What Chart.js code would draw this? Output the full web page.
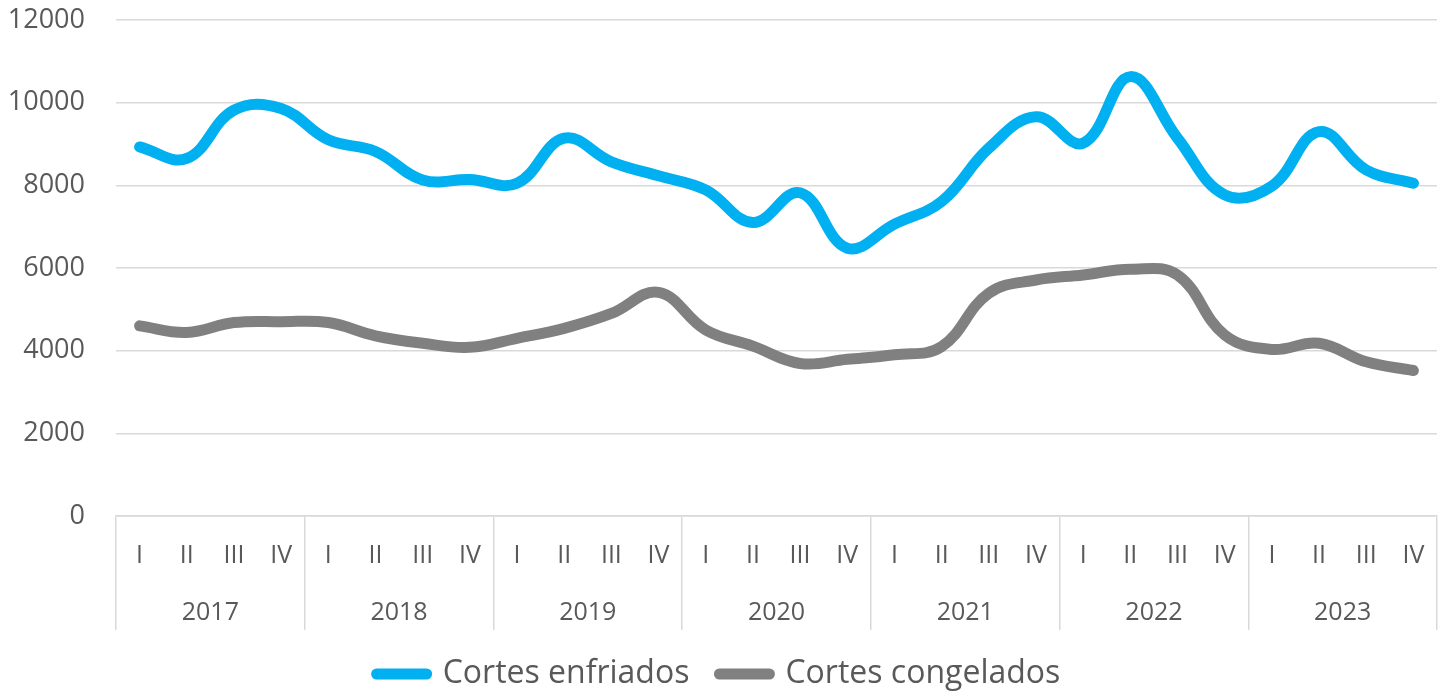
<!DOCTYPE html>
<html>
<head>
<meta charset="utf-8">
<script src="https://cdn.jsdelivr.net/npm/chart.js@4"></script>
<style>
  html, body { margin: 0; padding: 0; background: #fff; }
  #wrap { width: 1448px; height: 693px; }
</style>
</head>
<body>
<div id="wrap"><canvas id="myChart" width="1448" height="693"></canvas></div>
<script>
// quarters and years for the two-level category axis
const quarters = ["I", "II", "III", "IV"];
const years = ["2017", "2018", "2019", "2020", "2021", "2022", "2023"];
const yTicks = [0, 2000, 4000, 6000, 8000, 10000, 12000];

// values, one per quarter
const enfriados = [8930, 8650, 9820, 9860, 9100, 8820, 8130, 8140, 8050, 9140, 8570, 8230, 7890, 7100,
  7820, 6480, 7060, 7610, 8900, 9660, 9020, 10630, 9140, 7770, 7980, 9300, 8370, 8050];
const congelados = [4600, 4440, 4680, 4700, 4680, 4360, 4180, 4080, 4300, 4540, 4900, 5410, 4500, 4110,
  3690, 3790, 3900, 4100, 5390, 5710, 5830, 5970, 5830, 4380, 4030, 4180, 3730, 3520];

const labels = [];
years.forEach(function() { quarters.forEach(function(q) { labels.push(q); }); });

const textColor = "#595959";
const gridColor = "#d9d9d9";
const font = "'Open Sans', sans-serif";

const ctx = document.getElementById("myChart").getContext("2d");

const myChart = new Chart(ctx, {
  type: "line",
  data: {
    labels: labels,
    datasets: [
      {
        label: "Cortes enfriados",
        data: enfriados,
        borderColor: "#00b0f0",
        backgroundColor: "#00b0f0",
        borderWidth: 11,
        borderCapStyle: "round",
        tension: 0.4,
        pointRadius: 0,
        xAxisID: "x",
      },
      {
        label: "Cortes congelados",
        data: congelados,
        borderColor: "#808080",
        backgroundColor: "#808080",
        borderWidth: 11,
        borderCapStyle: "round",
        tension: 0.4,
        pointRadius: 0,
        xAxisID: "x",
      },
    ],
  },
  options: {
    responsive: false,
    animation: false,
    layout: { padding: { top: 20, right: 11, left: 0, bottom: -7 } },
    plugins: {
      tooltip: { enabled: false },
      legend: {
        position: "bottom",
        labels: {
          usePointStyle: true,
          pointStyle: "line",
          pointStyleWidth: 50,
          padding: 30,
          color: textColor,
          font: { family: font, size: 32 },
          generateLabels: function(chart) {
            const items = Chart.defaults.plugins.legend.labels.generateLabels(chart);
            items.forEach(function(it) {
              it.lineCap = "round";
              it.lineWidth = 11;
            });
            return items;
          },
        },
      },
    },
    scales: {
      x: {
        type: "category",
        offset: true,
        weight: 0,
        grid: {
          offset: true,
          drawOnChartArea: false,
          drawTicks: true,
          tickLength: 114,
          lineWidth: 1.5,
          color: function(c) {
            if (c.index === undefined || c.index % 4 === 0) return gridColor;
            return "rgba(0,0,0,0)";
          },
        },
        border: { display: true, color: gridColor, width: 1.5 },
        ticks: {
          autoSkip: false,
          maxRotation: 0,
          padding: -89,
          color: textColor,
          font: { family: font, size: 25 },
        },
        afterFit: function(scale) { scale.height = 64; },
      },
      x2: {
        type: "category",
        labels: years,
        position: "bottom",
        offset: true,
        weight: 1,
        grid: { display: false, drawTicks: false },
        border: { display: false },
        ticks: {
          autoSkip: false,
          maxRotation: 0,
          padding: 18,
          color: textColor,
          font: { family: font, size: 25 },
        },
        afterFit: function(scale) { scale.height = 48; },
      },
      y: {
        min: yTicks[0],
        max: yTicks[yTicks.length - 1],
        grid: {
          color: gridColor,
          lineWidth: 1.5,
          drawTicks: true,
          tickLength: 31,
          tickColor: "rgba(0,0,0,0)",
        },
        border: { display: false },
        ticks: {
          stepSize: yTicks[1] - yTicks[0],
          padding: 0,
          color: textColor,
          font: { family: font, size: 27 },
          callback: function(v) { return String(v); },
        },
        afterFit: function(scale) { scale.width = 116; },
      },
    },
  },
});
</script>
</body>
</html>
